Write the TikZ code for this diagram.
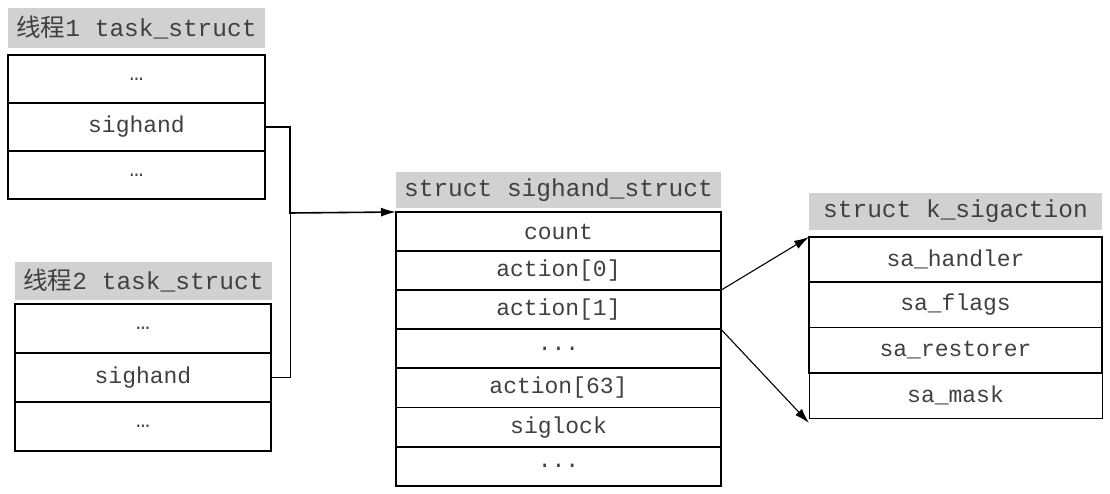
\documentclass[tikz,border=0pt]{standalone}
\usepackage{fontspec}
\setmonofont{Liberation Mono}
\newfontfamily\cjk{Noto Sans CJK SC}
\usepackage{tikz}
\usetikzlibrary{positioning,arrows.meta}

\tikzset{
  field/.style 2 args={draw, line width=1.9pt, outer sep=0pt, inner sep=0pt,
    minimum width=#1, minimum height=#2, text=black!75,
    font=\fontsize{23}{23}\selectfont\ttfamily},
  title/.style 2 args={fill=black!18, outer sep=0pt, inner sep=0pt, anchor=north west,
    minimum width=#1, minimum height=#2, text=black!75,
    font=\fontsize{24.5}{24.5}\selectfont\ttfamily},
}

\begin{document}
\begin{tikzpicture}[x=1pt, y=-1pt, >={Latex[length=15pt,width=9pt]}]
    \useasboundingbox (0,0) rectangle (1110,494);

    % thread 1
    \node[title={257}{40}] (t1title) at (8,8) {{\cjk 线程}1 task\_struct};
    \node[field={257}{48}, anchor=north west] (t1a) at (8,55) {…};
    \node[field={257}{48}, below=0pt of t1a] (t1sig) {sighand};
    \node[field={257}{48}, below=0pt of t1sig] (t1b) {…};

    % thread 2
    \node[title={257}{38}] (t2title) at (15,262) {{\cjk 线程}2 task\_struct};
    \node[field={256}{49}, anchor=north west] (t2a) at (15,304) {…};
    \node[field={256}{49}, below=0pt of t2a] (t2sig) {sighand};
    \node[field={256}{49}, below=0pt of t2sig] (t2b) {…};

    % struct sighand_struct
    \node[title={325}{36}] (shtitle) at (396,172) {struct sighand\_struct};
    \node[field={325}{39.1}, anchor=north west] (count) at (396,212) {count};
    \node[field={325}{39.1}, below=0pt of count] (act0) {action[0]};
    \node[field={325}{39.1}, below=0pt of act0] (act1) {action[1]};
    \node[field={325}{39.1}, below=0pt of act1] (actdots) {...};
    \node[field={325}{39.1}, below=0pt of actdots] (act63) {action[63]};
    \node[field={325}{39.1}, below=0pt of act63] (siglock) {siglock};
    \node[field={325}{39.1}, below=0pt of siglock] (shdots) {...};

    % struct k_sigaction
    \node[title={293}{37}] (katitle) at (809,193) {struct k\_sigaction};
    \node[field={293}{45.25}, anchor=north west] (handler) at (809,237) {sa\_handler};
    \node[field={293}{45.25}, below=0pt of handler] (flags) {sa\_flags};
    \node[field={293}{45.25}, below=0pt of flags] (restorer) {sa\_restorer};
    \node[field={293}{45.25}, below=0pt of restorer, line width=0.9pt] (mask) {sa\_mask};

    \coordinate (bus) at (290,213);
    \draw[->, line width=1.6pt] (t1sig.east) -| (bus) -- (count.north west);
    \draw[line width=1pt] (t2sig.east) -| (bus);
    \draw[->, line width=1.1pt] (act0.south east) to (handler.north west);
    \draw[->, line width=1.1pt] (act1.south east) to ([yshift=-5pt]mask.south west);
  \end{tikzpicture}
\end{document}
